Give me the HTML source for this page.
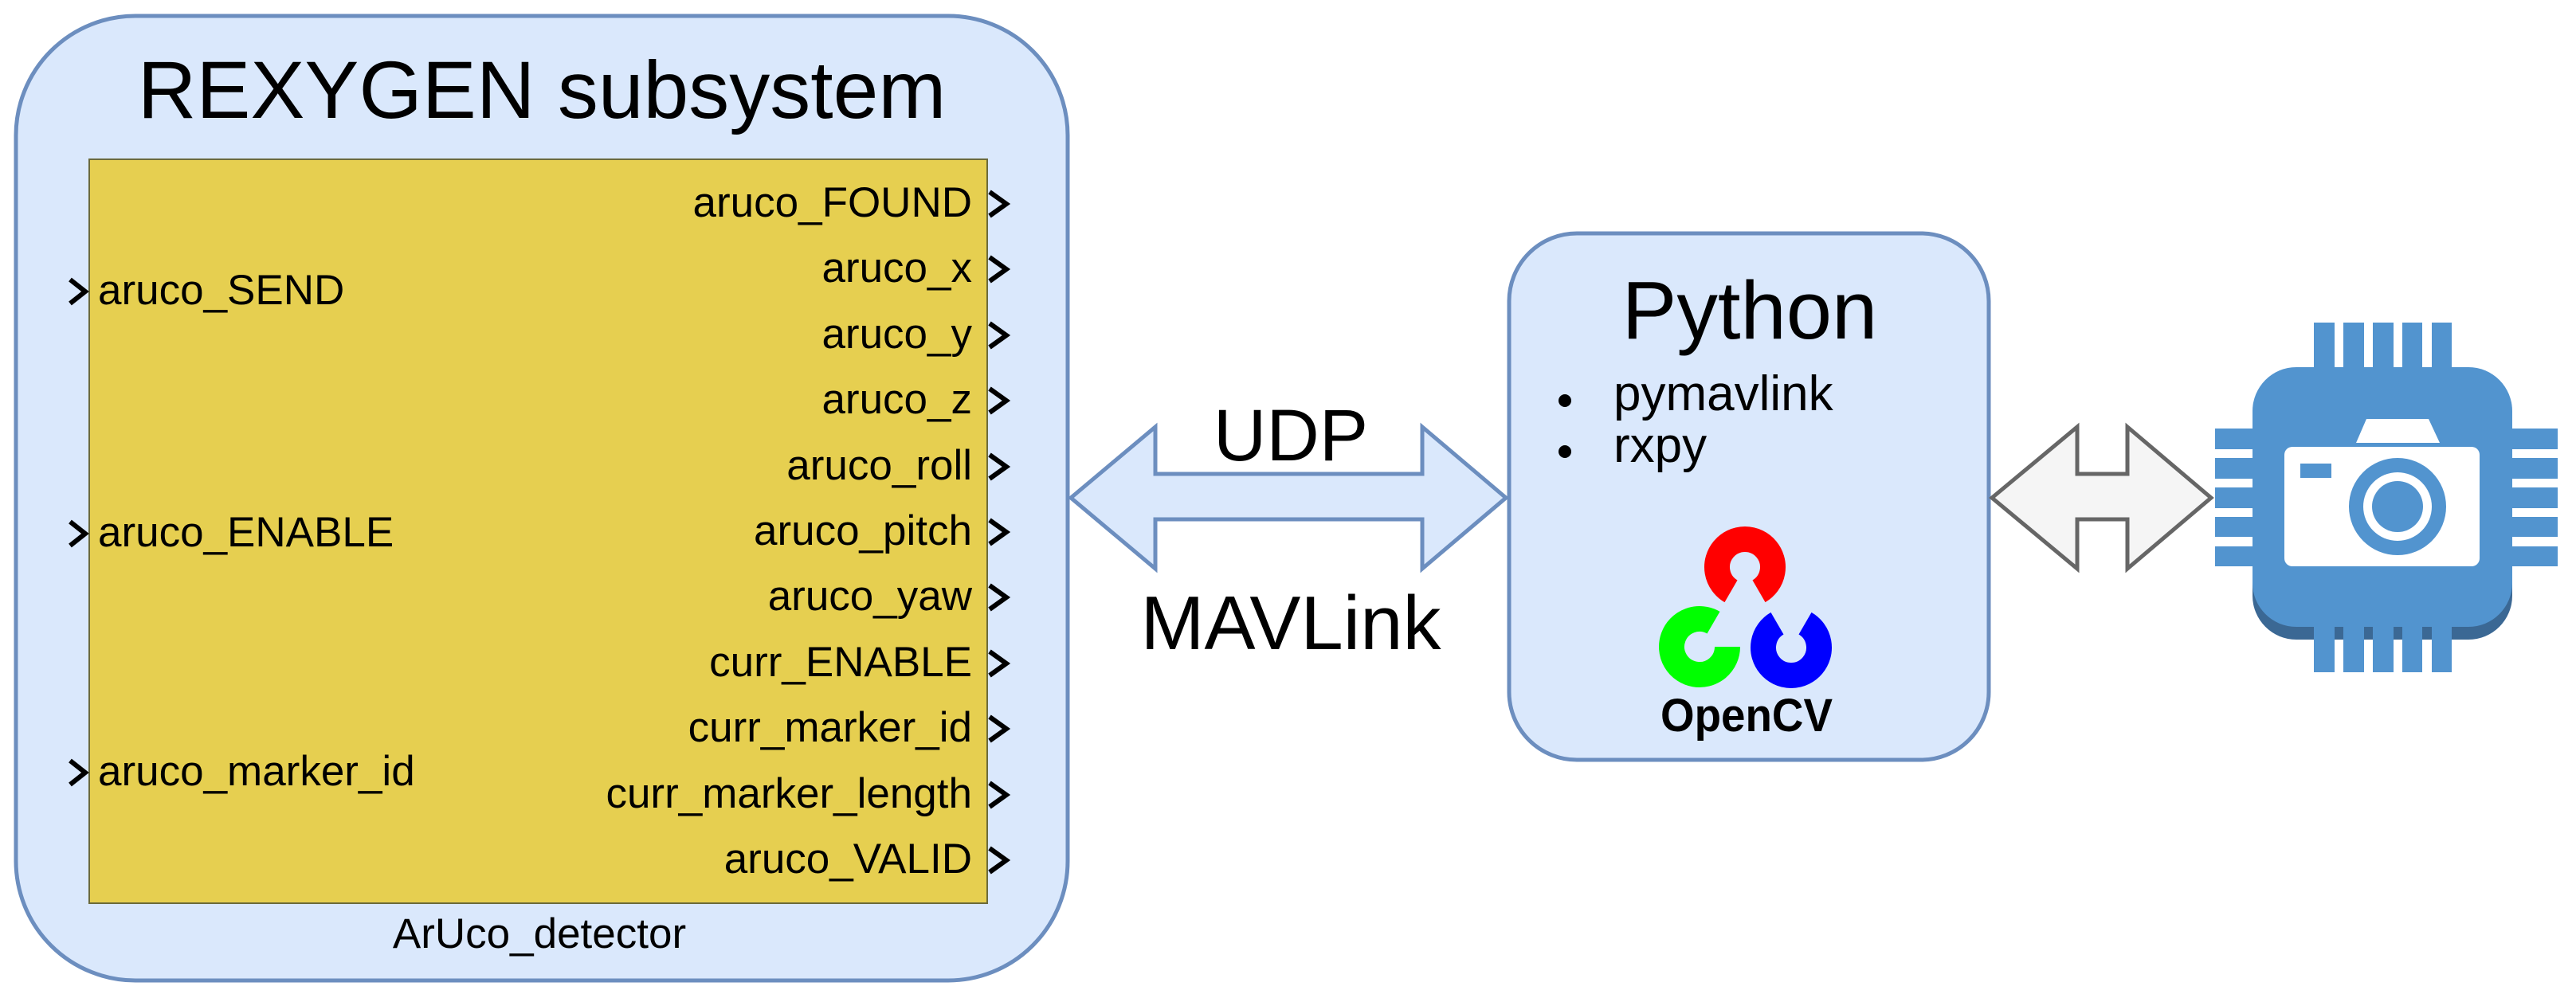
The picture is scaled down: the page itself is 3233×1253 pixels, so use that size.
<!DOCTYPE html>
<html><head><meta charset="utf-8"><style>
html,body{margin:0;padding:0;background:#fff;}
svg{display:block;}
text{font-family:"Liberation Sans",Arial,sans-serif;fill:#000;}
</style></head><body>
<svg width="3233" height="1253" viewBox="0 0 3233 1253" xmlns="http://www.w3.org/2000/svg">
<rect x="20" y="20" width="1320" height="1211" rx="150" ry="150" fill="#dae8fc" stroke="#6c8ebf" stroke-width="5"/>
<text x="680" y="148" font-size="102" text-anchor="middle">REXYGEN subsystem</text>
<rect x="112" y="200" width="1127" height="934" fill="#e6cf50" stroke="#6b6a3a" stroke-width="2"/>
<g font-size="53" text-anchor="end">
<text x="1220" y="272">aruco_FOUND</text>
<text x="1220" y="354">aruco_x</text>
<text x="1220" y="437">aruco_y</text>
<text x="1220" y="519">aruco_z</text>
<text x="1220" y="602">aruco_roll</text>
<text x="1220" y="684">aruco_pitch</text>
<text x="1220" y="766">aruco_yaw</text>
<text x="1220" y="849">curr_ENABLE</text>
<text x="1220" y="931">curr_marker_id</text>
<text x="1220" y="1014">curr_marker_length</text>
<text x="1220" y="1096">aruco_VALID</text>
</g>
<g fill="none" stroke="#000" stroke-width="6">
<path d="M1242 241 L1263 256 L1242 271"/>
<path d="M1242 323 L1263 338 L1242 353"/>
<path d="M1242 406 L1263 421 L1242 436"/>
<path d="M1242 488 L1263 503 L1242 518"/>
<path d="M1242 571 L1263 586 L1242 601"/>
<path d="M1242 653 L1263 668 L1242 683"/>
<path d="M1242 735 L1263 750 L1242 765"/>
<path d="M1242 818 L1263 833 L1242 848"/>
<path d="M1242 900 L1263 915 L1242 930"/>
<path d="M1242 983 L1263 998 L1242 1013"/>
<path d="M1242 1065 L1263 1080 L1242 1095"/>
<path d="M88 351 L107 366 L88 381"/>
<path d="M88 655 L107 670 L88 685"/>
<path d="M88 955 L107 970 L88 985"/>
</g>
<g font-size="53">
<text x="123" y="382">aruco_SEND</text>
<text x="123" y="686">aruco_ENABLE</text>
<text x="123" y="986">aruco_marker_id</text>
</g>
<text x="677" y="1190" font-size="53" text-anchor="middle">ArUco_detector</text>

<path d="M1344 625 L1450 536 L1450 595 L1785 595 L1785 536 L1890 625 L1785 714 L1785 652 L1450 652 L1450 714 Z" fill="#dae8fc" stroke="#6c8ebf" stroke-width="5"/>
<text x="1620" y="578" font-size="92" text-anchor="middle">UDP</text>
<text x="1620" y="815" font-size="96" text-anchor="middle">MAVLink</text>

<rect x="1894" y="293" width="602" height="661" rx="85" ry="85" fill="#dae8fc" stroke="#6c8ebf" stroke-width="5"/>
<text x="2196" y="425" font-size="103" text-anchor="middle">Python</text>
<circle cx="1964" cy="503" r="8" fill="#000"/>
<circle cx="1964" cy="567" r="8" fill="#000"/>
<text x="2025" y="515" font-size="62">pymavlink</text>
<text x="2025" y="580" font-size="62">rxpy</text>
<g fill="none" stroke-width="32">
<path d="M2172.5 742.3 A35 35 0 1 1 2207.5 742.3" stroke="#ff0000"/>
<path d="M2168 812 A35 35 0 1 1 2150.5 781.7" stroke="#00ff00"/>
<path d="M2265.5 782.7 A35 35 0 1 1 2230.5 782.7" stroke="#0000ff"/>
</g>
<text x="2192" y="918" font-size="58" font-weight="bold" text-anchor="middle" textLength="216" lengthAdjust="spacingAndGlyphs">OpenCV</text>

<path d="M2500 625 L2607 536 L2607 595 L2670 595 L2670 536 L2775 625 L2670 714 L2670 652 L2607 652 L2607 714 Z" fill="#f5f5f5" stroke="#666" stroke-width="5"/>

<g fill="#5294cf">
<rect x="2827" y="477" width="326" height="326" rx="55" fill="#3b6894"/>
<rect x="2827" y="461" width="326" height="326" rx="55"/>
<rect x="2904" y="405" width="26" height="60"/><rect x="2941" y="405" width="26" height="60"/><rect x="2978" y="405" width="26" height="60"/><rect x="3015" y="405" width="25" height="60"/><rect x="3052" y="405" width="25" height="60"/>
<rect x="2904" y="787" width="26" height="57"/><rect x="2941" y="787" width="26" height="57"/><rect x="2978" y="787" width="26" height="57"/><rect x="3015" y="787" width="25" height="57"/><rect x="3052" y="787" width="25" height="57"/>
<rect x="2780" y="538" width="50" height="26"/><rect x="2780" y="575" width="50" height="26"/><rect x="2780" y="612" width="50" height="26"/><rect x="2780" y="649" width="50" height="25"/><rect x="2780" y="686" width="50" height="25"/>
<rect x="3150" y="538" width="60" height="26"/><rect x="3150" y="575" width="60" height="26"/><rect x="3150" y="612" width="60" height="26"/><rect x="3150" y="649" width="60" height="25"/><rect x="3150" y="686" width="60" height="25"/>
</g>
<rect x="2867" y="561" width="245" height="150" rx="10" fill="#fff"/>
<path d="M2970 526 L3048 526 L3062 556 L2957 556 Z" fill="#fff"/>
<rect x="2887" y="582" width="39" height="18" fill="#5294cf"/>
<circle cx="3009" cy="636" r="61" fill="#5294cf"/>
<circle cx="3009" cy="636" r="43" fill="#fff"/>
<circle cx="3009" cy="636" r="32" fill="#5294cf"/>
</svg>
</body></html>
